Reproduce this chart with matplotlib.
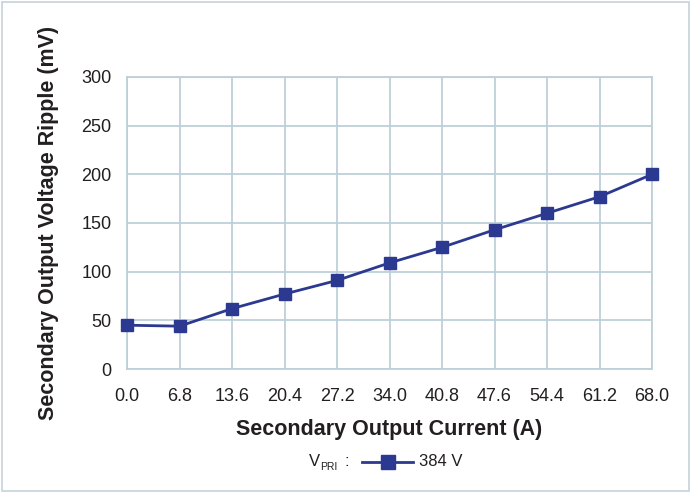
import numpy as np
import matplotlib
matplotlib.use("Agg")
import matplotlib.pyplot as plt
from matplotlib.patches import Rectangle

plt.rcParams["font.family"] = ["Liberation Sans", "DejaVu Sans"]

current = [0.0, 6.8, 13.6, 20.4, 27.2, 34.0, 40.8, 47.6, 54.4, 61.2, 68.0]
ripple = [45, 44, 62, 77, 91, 109, 125, 143, 160, 177, 200]
xtick_labels = ["0.0", "6.8", "13.6", "20.4", "27.2", "34.0", "40.8",
                "47.6", "54.4", "61.2", "68.0"]
yticks = [0, 50, 100, 150, 200, 250, 300]

line_color = "#2B3990"
grid_color = "#BDD0D9"
text_color = "#231F20"

fig = plt.figure(figsize=(6.91, 4.92), dpi=100)
ax = fig.add_axes([0.1838, 0.25, 0.7598, 0.5935])

ax.plot(current, ripple, color=line_color, lw=2, marker="s", ms=9,
        markerfacecolor=line_color, markeredgecolor=line_color, zorder=3,
        clip_on=False)

ax.set_xlim(0, 68)
ax.set_ylim(0, 300)
ax.set_xticks(current)
ax.set_xticklabels(xtick_labels)
ax.set_yticks(yticks)
ax.grid(True, color=grid_color, lw=1.3)
for s in ax.spines.values():
    s.set_color(grid_color)
    s.set_linewidth(1.3)
ax.tick_params(length=0, labelsize=13, colors=text_color)
ax.tick_params(axis="x", pad=14)
ax.tick_params(axis="y", pad=11)

ax.set_xlabel("Secondary Output Current (A)", fontsize=15.5, fontweight="bold",
              color=text_color, labelpad=9.5)
ax.set_ylabel("Secondary Output Voltage Ripple (mV)", fontsize=15.5,
              fontweight="bold", color=text_color, labelpad=16.5)

# legend
fig.text(0.447, 0.053, "V", fontsize=12, color=text_color)
fig.text(0.463, 0.045, "PRI", fontsize=7.5, color=text_color)
fig.text(0.498, 0.053, ":", fontsize=12, color=text_color)
leg_line = plt.Line2D([0.524, 0.561, 0.597], [0.061, 0.061, 0.061],
                      transform=fig.transFigure, color=line_color, lw=2,
                      marker="s", ms=9.5, markevery=[1])
fig.lines.append(leg_line)
fig.text(0.607, 0.053, "384 V", fontsize=12, color=text_color)

fig.patches.append(Rectangle((0.003, 0.003), 0.994, 0.992, transform=fig.transFigure,
                             fill=False, edgecolor="#C5D3DA", lw=1.2))

fig.savefig("out.png", dpi=100)
